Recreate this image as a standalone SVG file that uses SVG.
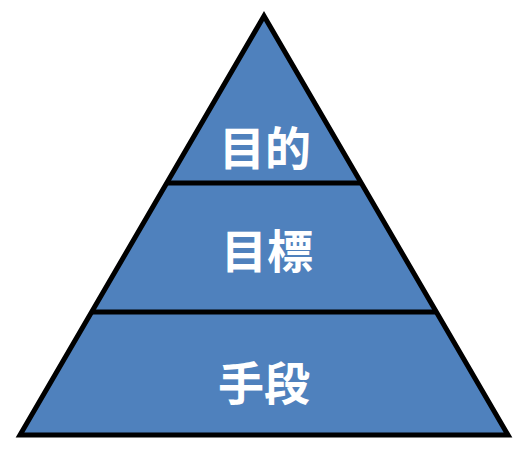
<svg xmlns="http://www.w3.org/2000/svg" width="529" height="453" viewBox="0 0 529 453">
<style>
.lbl{font-family:"Noto Sans CJK JP","Noto Sans CJK SC",sans-serif;font-weight:bold;font-size:46px;fill:#ffffff;text-anchor:middle;dominant-baseline:central}
.edge{stroke:#000000;stroke-width:5;fill:none}
</style>
<rect width="529" height="453" fill="#ffffff"/>
<g id="pyramid">
<polygon points="264,16 20,435 508,435" fill="#4f81bd" stroke="#000000" stroke-width="5" stroke-linejoin="miter"/>
</g>
<g id="connectors">
<line class="edge" x1="166" y1="183" x2="362" y2="183"/>
<line class="edge" x1="92" y1="312" x2="436" y2="312"/>
</g>
<g id="node-purpose"><text class="lbl" x="265" y="145">目的</text></g>
<g id="node-goal"><text class="lbl" x="267" y="248">目標</text></g>
<g id="node-means"><text class="lbl" x="264" y="380">手段</text></g>
</svg>
